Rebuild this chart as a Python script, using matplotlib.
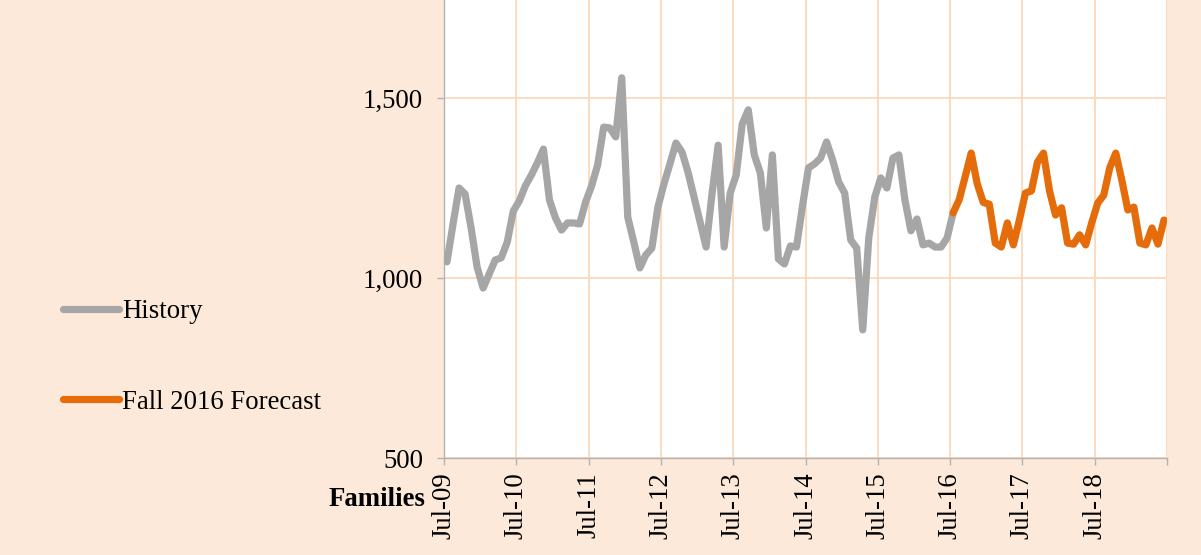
import matplotlib
matplotlib.use('Agg')
import matplotlib.pyplot as plt

# monthly values, Jul-09 .. Jun-16 (history) and Jun-16 .. Jun-19 (forecast)
history = [1045, 1150, 1250, 1233, 1139, 1030, 972, 1011, 1050, 1056, 1100, 1186,
           1214, 1256, 1286, 1320, 1358, 1217, 1167, 1133, 1153, 1153, 1150, 1211,
           1256, 1314, 1419, 1417, 1392, 1556, 1169, 1100, 1028, 1064, 1083, 1197,
           1261, 1317, 1375, 1350, 1294, 1225, 1156, 1086, 1236, 1369, 1086, 1236,
           1286, 1428, 1467, 1342, 1292, 1139, 1342, 1053, 1039, 1089, 1086, 1200,
           1306, 1317, 1333, 1378, 1328, 1267, 1236, 1106, 1083, 856, 1111, 1225,
           1278, 1250, 1333, 1342, 1217, 1131, 1164, 1092, 1097, 1086, 1086, 1111,
           1181]
forecast = [1181, 1217, 1281, 1347, 1262, 1210, 1205, 1097, 1086, 1153, 1092, 1161,
            1236, 1242, 1322, 1347, 1242, 1175, 1195, 1097, 1094, 1120, 1092, 1153,
            1208, 1230, 1306, 1347, 1272, 1189, 1197, 1097, 1092, 1139, 1094, 1161]
year_labels = ['Jul-09', 'Jul-10', 'Jul-11', 'Jul-12', 'Jul-13',
               'Jul-14', 'Jul-15', 'Jul-16', 'Jul-17', 'Jul-18', '']
y_ticks = [500, 1000, 1500]
y_labels = ['500', '1,000', '1,500']

BG = '#FDE9D9'
GRID = '#FCD5B4'
AXIS = '#B3B3B3'
FS = 19.3
plt.rcParams['font.family'] = ['Liberation Serif', 'DejaVu Serif']

fig = plt.figure(figsize=(12.01, 5.55), dpi=100, facecolor=BG)
ax = fig.add_axes([444/1201, 1 - 458/555, (1167 - 444)/1201, 458/555])
ax.set_facecolor('white')

hx = [i + 0.5 for i in range(len(history))]
fx = [len(history) - 1 + i + 0.5 for i in range(len(forecast))]
ax.plot(hx, history, color='#A6A6A6', lw=5.2, solid_capstyle='round',
        solid_joinstyle='round', label='History', zorder=3)
ax.plot(fx, forecast, color='#E46C0A', lw=5.2, solid_capstyle='round',
        solid_joinstyle='round', label='Fall 2016 Forecast', zorder=4)

ax.set_xlim(0, 120)
ax.set_ylim(500, 500 + 458 * 500 / 180)
ax.set_xticks(range(0, 121, 12))
ax.set_xticklabels(year_labels, rotation=90, fontsize=FS)
ax.set_yticks(y_ticks)
ax.set_yticklabels(y_labels, fontsize=FS)
ax.grid(True, color=GRID, lw=1.2, zorder=0)
ax.set_axisbelow(True)
for s in ['top', 'right']:
    ax.spines[s].set_visible(False)
for s in ['left', 'bottom']:
    ax.spines[s].set_color(AXIS)
    ax.spines[s].set_linewidth(1)
ax.tick_params(axis='both', color=AXIS, length=5, width=1)
ax.tick_params(axis='x', pad=5)
ax.tick_params(axis='y', pad=10)

fig.text(425/1201, 1 - 500/555, 'Families', ha='right', va='center',
         fontsize=FS, fontweight='bold')

fig.legend(loc='center left', bbox_to_anchor=(63/1201, 1 - 357/555),
           frameon=False, fontsize=FS, handlelength=2.1, handletextpad=0.1,
           labelspacing=2.45, borderpad=0, borderaxespad=0)

plt.savefig('out.png', dpi=100, facecolor=BG)
plt.close()
